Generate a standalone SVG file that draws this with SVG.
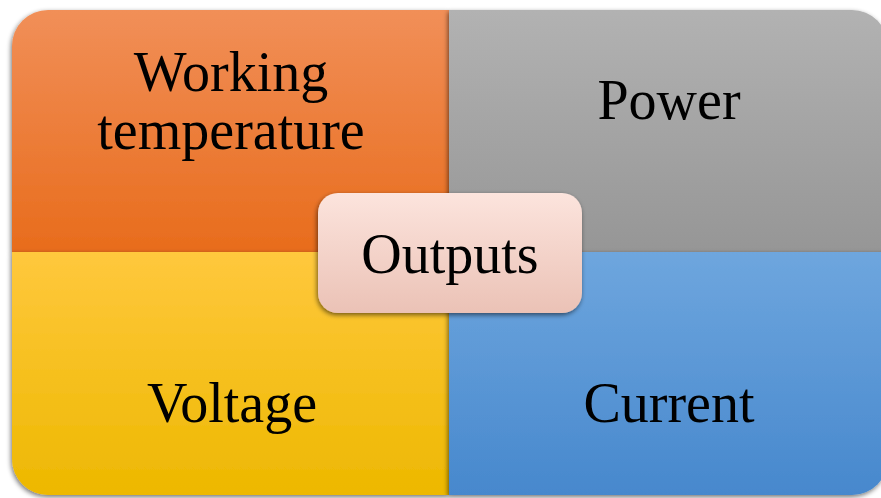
<svg xmlns="http://www.w3.org/2000/svg" width="881" height="498" viewBox="0 0 881 498">
  <defs>
    <linearGradient id="gOrange" x1="0" y1="0" x2="0" y2="1">
      <stop offset="0" stop-color="#F18F58"/>
      <stop offset="1" stop-color="#E86C1C"/>
    </linearGradient>
    <linearGradient id="gGray" x1="0" y1="0" x2="0" y2="1">
      <stop offset="0" stop-color="#B2B2B2"/>
      <stop offset="1" stop-color="#969696"/>
    </linearGradient>
    <linearGradient id="gYellow" x1="0" y1="0" x2="0" y2="1">
      <stop offset="0" stop-color="#FFC83D"/>
      <stop offset="1" stop-color="#EDB800"/>
    </linearGradient>
    <linearGradient id="gBlue" x1="0" y1="0" x2="0" y2="1">
      <stop offset="0" stop-color="#6EA6DE"/>
      <stop offset="1" stop-color="#4788CD"/>
    </linearGradient>
    <linearGradient id="gPink" x1="0" y1="0" x2="0" y2="1">
      <stop offset="0" stop-color="#FCE4DD"/>
      <stop offset="1" stop-color="#EBC2B6"/>
    </linearGradient>
    <filter id="shadow" x="-10%" y="-10%" width="120%" height="125%">
      <feGaussianBlur in="SourceAlpha" stdDeviation="2.5"/>
      <feOffset dx="-1" dy="2" result="b"/>
      <feComponentTransfer><feFuncA type="linear" slope="0.55"/></feComponentTransfer>
      <feMerge><feMergeNode/><feMergeNode in="SourceGraphic"/></feMerge>
    </filter>
  </defs>
  <style>
    text { font-family: "Liberation Serif", "Times New Roman", serif; font-size: 56px; fill: #000; text-anchor: middle; }
  </style>

  <rect width="881" height="498" fill="#FFFFFF"/>

  <!-- quadrants -->
  <g id="working-temperature" filter="url(#shadow)">
    <path d="M12,46 A36,36 0 0 1 48,10 L449,10 L449,252 L12,252 Z" fill="url(#gOrange)"/>
    <text x="231" y="91">Working</text>
    <text x="231" y="149">temperature</text>
  </g>
  <g id="power" filter="url(#shadow)">
    <path d="M449,10 L852,10 A36,36 0 0 1 888,46 L888,252 L449,252 Z" fill="url(#gGray)"/>
    <text x="669" y="119">Power</text>
  </g>
  <g id="voltage" filter="url(#shadow)">
    <path d="M12,252 L449,252 L449,495 L48,495 A36,36 0 0 1 12,459 Z" fill="url(#gYellow)"/>
    <text x="232" y="422">Voltage</text>
  </g>
  <g id="current" filter="url(#shadow)">
    <path d="M449,252 L888,252 L888,459 A36,36 0 0 1 852,495 L449,495 Z" fill="url(#gBlue)"/>
    <text x="669" y="422">Current</text>
  </g>

  <!-- centre node -->
  <g id="outputs" filter="url(#shadow)">
    <rect x="318" y="193" width="264" height="120" rx="20" ry="20" fill="url(#gPink)"/>
    <text x="450" y="273">Outputs</text>
  </g>
</svg>
